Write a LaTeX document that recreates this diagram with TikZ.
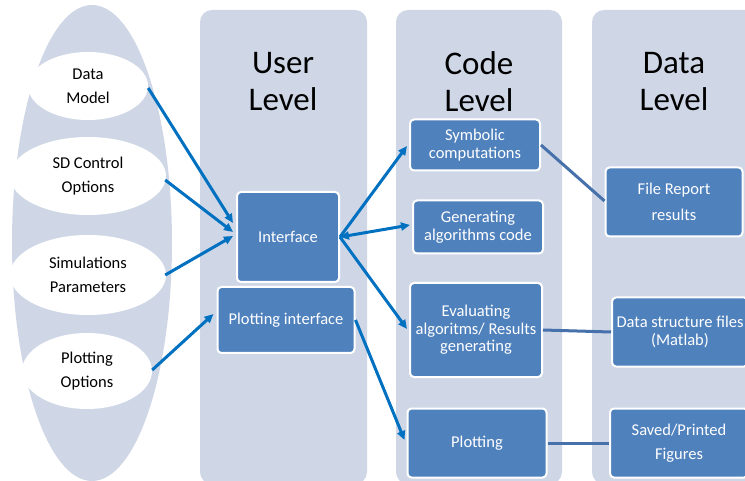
\documentclass[tikz,border=0pt]{standalone}
\usepackage{fontspec}
\setmainfont{Carlito}
\usetikzlibrary{arrows.meta,calc,shapes.geometric}
\definecolor{lane}{HTML}{CFD7E7}
\definecolor{boxblue}{HTML}{4F81BD}
\definecolor{arrblue}{HTML}{0070C0}
\definecolor{linkblue}{HTML}{4671AA}
\tikzset{
  lanebox/.style={fill=lane, draw=none, rounded corners=12pt},
  opt/.style={ellipse, fill=white, draw=none, align=center, font=\fontsize{16.5}{24}\selectfont, inner sep=0pt},
  title/.style={align=center, font=\fontsize{33}{37}\selectfont},
  blk/.style={rectangle, rounded corners=4pt, fill=boxblue, draw=white, line width=2pt, text=white, align=center, font=\fontsize{16.5}{18}\selectfont, inner sep=0pt},
  arr/.style={draw=arrblue, line width=3pt, -{Triangle[length=9pt,width=8pt]}},
  darr/.style={draw=arrblue, line width=3pt, {Triangle[length=9pt,width=8pt]}-{Triangle[length=9pt,width=8pt]}},
  lnk/.style={draw=linkblue, line width=3pt}
}
\begin{document}
\begin{tikzpicture}[x=1pt,y=-1pt]
\useasboundingbox (0,0) rectangle (745,481);
\fill[white] (0,0) rectangle (745,481);
% big ellipse
\fill[lane] (92,243) ellipse [x radius=80, y radius=238];
% lanes
\fill[lanebox] (200,10) rectangle (367,484);
\fill[lanebox] (396,10) rectangle (562,484);
\fill[lanebox] (592,10) rectangle (760,484);
% titles
\node[title] (tu) at (283,82) {User\\Level};
\node[title] (tc) at (479,82) {Code\\Level};
\node[title] (td) at (674,82) {Data\\Level};
% option ellipses
\node[opt, minimum width=120, minimum height=68] (dm) at (88,86) {Data\\Model};
\node[opt, minimum width=156, minimum height=78] (sd) at (88,176) {SD Control\\Options};
\node[opt, minimum width=156, minimum height=80] (sim) at (88,275) {Simulations\\Parameters};
\node[opt, minimum width=130, minimum height=76] (po) at (87,371) {Plotting\\Options};
% user level boxes
\node[blk, minimum width=102, minimum height=90] (iface) at (288,237) {Interface};
\node[blk, minimum width=137, minimum height=66] (pint) at (286,320) {Plotting interface};
% code level boxes
\node[blk, minimum width=130, minimum height=51] (sym) at (475,145) {Symbolic\\computations};
\node[blk, minimum width=130, minimum height=53] (gen) at (478,227) {Generating\\algorithms code};
\node[blk, minimum width=132, minimum height=94, font=\fontsize{16.5}{17.5}\selectfont] (eval) at (476,330) {Evaluating\\algoritms/ Results\\generating};
\node[blk, minimum width=139, minimum height=69] (plot) at (477,443) {Plotting};
% data level boxes
\node[blk, minimum width=137, minimum height=69, font=\fontsize{16.5}{26}\selectfont] (fr) at (674,202) {File Report\\results};
\node[blk, minimum width=136, minimum height=69] (ds) at (680,332) {Data structure files\\(Matlab)};
\node[blk, minimum width=138, minimum height=69, font=\fontsize{16.5}{24}\selectfont] (sv) at (679,443) {Saved/Printed\\Figures};
% arrows into interface
\draw[arr] ($(dm.east)+(0,2)$) -- ($(iface.west)+(-3,-14)$);
\draw[arr] ($(sd.east)+(-1,4)$) -- ($(iface.west)+(-3,-5)$);
\draw[arr] ($(sim.east)+(-1,0)$) -- ($(iface.west)+(-3,-1)$);
\draw[arr] ($(po.east)+(0,-1)$) -- ($(pint.west)+(-3,-6)$);
% arrows from interface
\draw[arr] (iface.east) -- ($(sym.west)+(-2,1)$);
\draw[darr] (iface.east) -- ($(gen.west)+(-2,-2)$);
\draw[arr] (iface.east) -- ($(eval.west)+(-2,-1)$);
\draw[arr] (pint.east) -- ($(plot.west)+(-2,-3)$);
% links to data level
\draw[lnk] (sym.east) -- ($(fr.west)+(0,-1)$);
\draw[lnk] (eval.east) -- (ds.west);
\draw[lnk] (plot.east) -- (sv.west);
\end{tikzpicture}
\end{document}
